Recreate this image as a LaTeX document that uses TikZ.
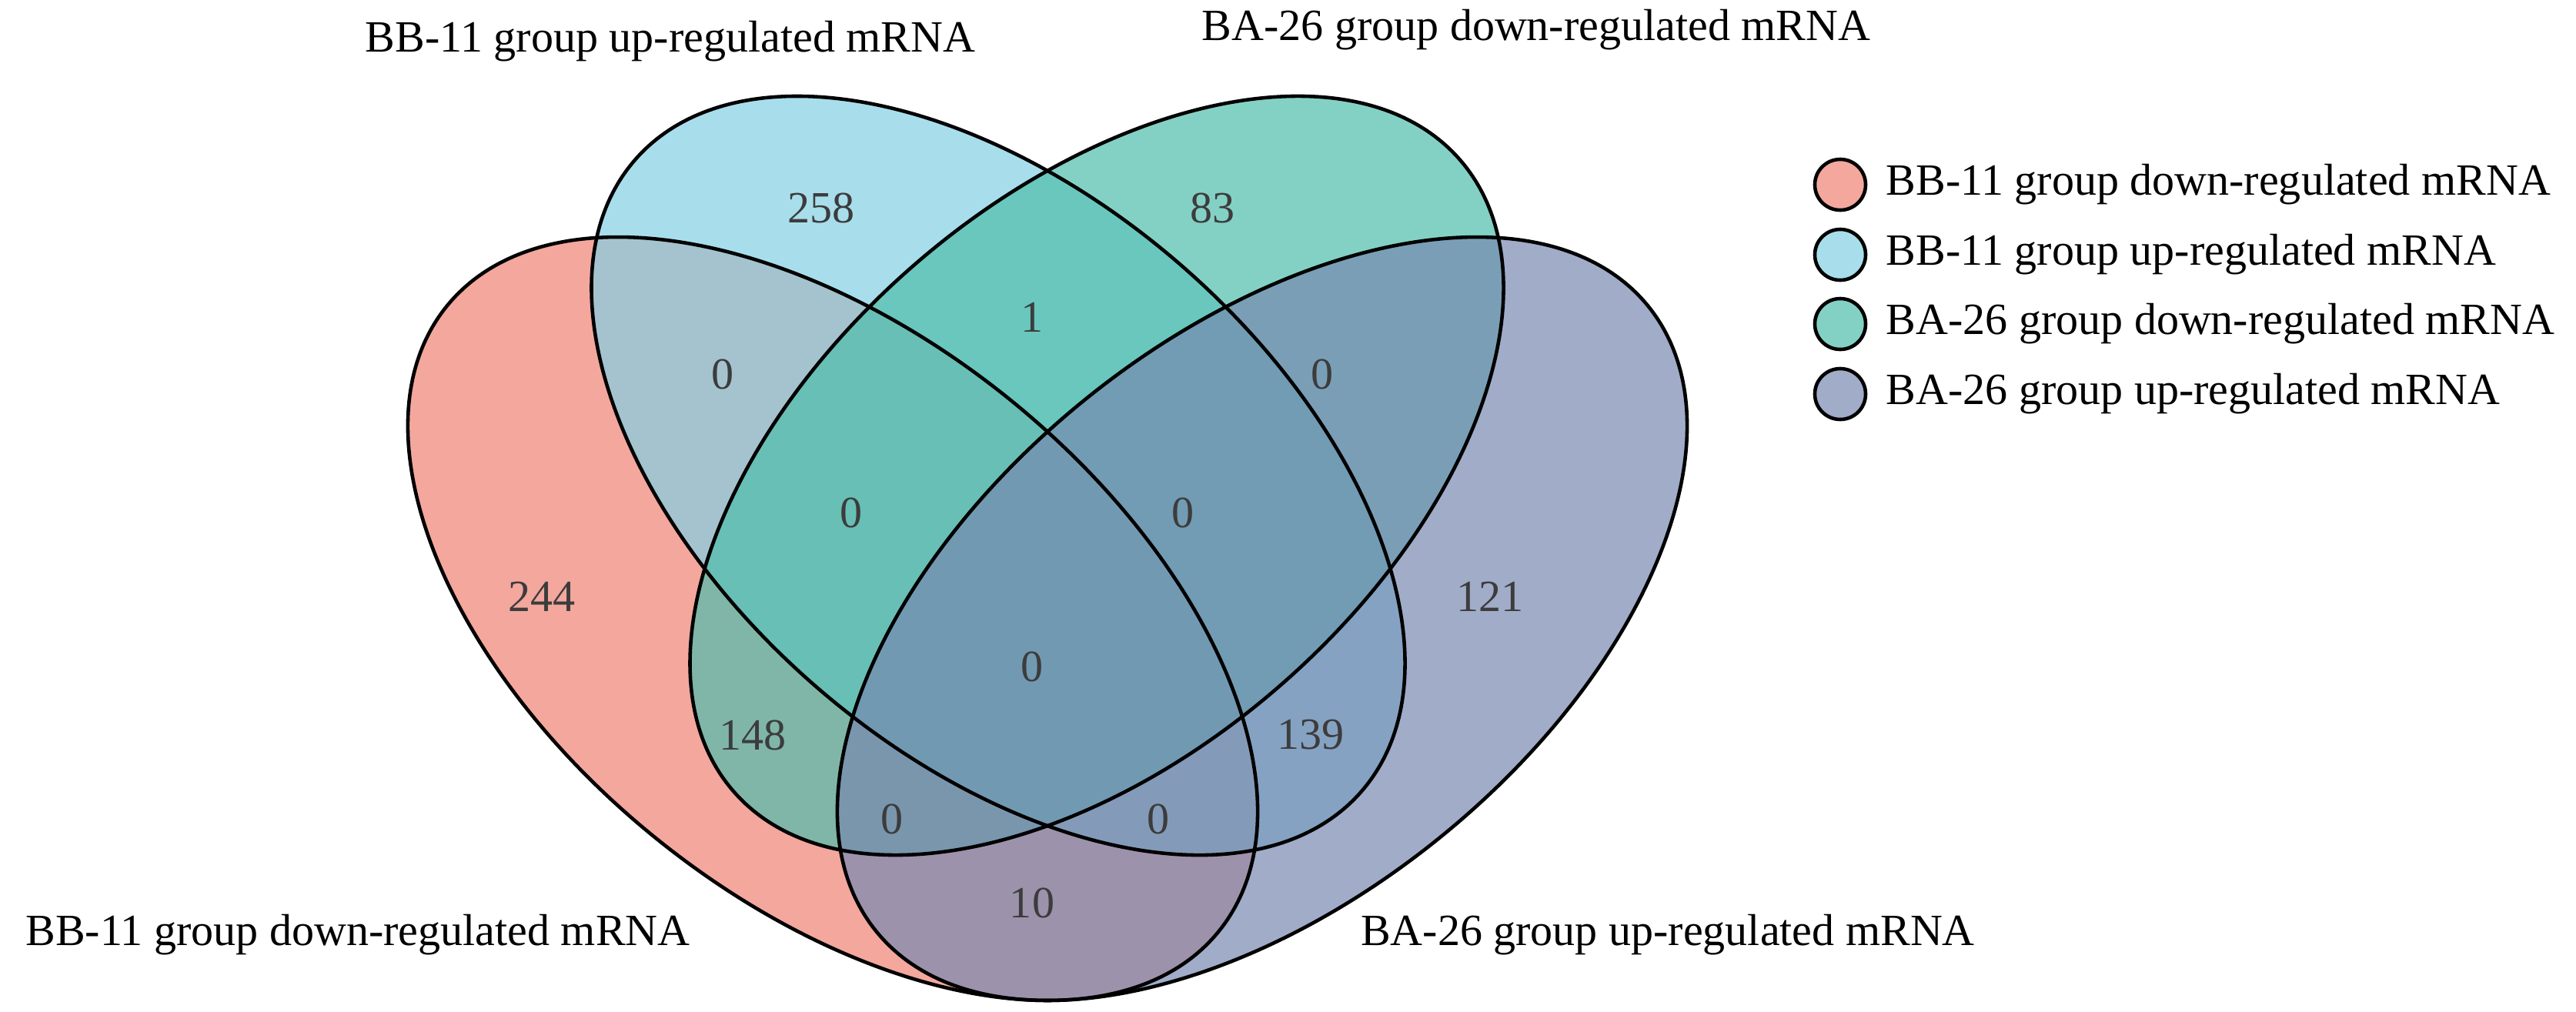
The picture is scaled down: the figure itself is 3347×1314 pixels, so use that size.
\documentclass[tikz,border=0pt]{standalone}
\usepackage{fontspec}
\setmainfont{Liberation Serif}
\definecolor{vred}{RGB}{238,129,116}
\definecolor{vblue}{RGB}{131,208,228}
\definecolor{vgreen}{RGB}{79,189,171}
\definecolor{vpurple}{RGB}{119,137,177}
\definecolor{numgray}{RGB}{60,60,60}
\begin{document}
\begin{tikzpicture}[x=0.01cm,y=-0.01cm,
  setfill/.style={fill=#1,fill opacity=0.7,draw=none},
  setline/.style={draw=black,line width=1.3pt},
  lab/.style={font=\fontsize{16.5}{19}\selectfont,text=black,inner sep=0pt},
  num/.style={font=\fontsize{16.5}{19}\selectfont,text=numgray,inner sep=0pt},
  leg/.style={circle,minimum size=0.66cm,inner sep=0pt,draw=black,line width=1.3pt,fill=#1,fill opacity=0.7,text opacity=1}]
\useasboundingbox (0,0) rectangle (3347,1314);
\coordinate (cR) at (1082,804);
\coordinate (cB) at (1297,618);
\coordinate (cG) at (1425,618);
\coordinate (cP) at (1640,804);
% fills
\path[setfill=vred,rotate around={-39:(cR)}] (cR) ellipse [x radius=6.45cm,y radius=3.66cm];
\path[setfill=vblue,rotate around={-41:(cB)}] (cB) ellipse [x radius=6.25cm,y radius=3.62cm];
\path[setfill=vgreen,rotate around={41:(cG)}] (cG) ellipse [x radius=6.25cm,y radius=3.62cm];
\path[setfill=vpurple,rotate around={39:(cP)}] (cP) ellipse [x radius=6.45cm,y radius=3.66cm];
% outlines
\draw[setline,rotate around={-39:(cR)}] (cR) ellipse [x radius=6.45cm,y radius=3.66cm];
\draw[setline,rotate around={-41:(cB)}] (cB) ellipse [x radius=6.25cm,y radius=3.62cm];
\draw[setline,rotate around={41:(cG)}] (cG) ellipse [x radius=6.25cm,y radius=3.62cm];
\draw[setline,rotate around={39:(cP)}] (cP) ellipse [x radius=6.45cm,y radius=3.66cm];
% set labels
\node[lab] (tB) at (871,54) {BB-11 group up-regulated mRNA};
\node[lab] (tG) at (1996,39) {BA-26 group down-regulated mRNA};
\node[lab] (tR) at (465,1215) {BB-11 group down-regulated mRNA};
\node[lab] (tP) at (2167,1215) {BA-26 group up-regulated mRNA};
% numbers
\node[num] (n1) at (1067,270) {258};
\node[num] (n2) at (1575,270) {83};
\node[num] (n3) at (1341,412) {1};
\node[num] (n4) at (939,486) {0};
\node[num] (n5) at (1718,486) {0};
\node[num] (n6) at (1106,666) {0};
\node[num] (n7) at (1537,666) {0};
\node[num] (n8) at (704,775) {244};
\node[num] (n9) at (1936,775) {121};
\node[num] (n10) at (1341,866) {0};
\node[num] (n11) at (978,955) {148};
\node[num] (n12) at (1703,955) {139};
\node[num] (n13) at (1159,1064) {0};
\node[num] (n14) at (1505,1064) {0};
\node[num] (n15) at (1341,1173) {10};
% legend
\node[leg=vred] (l1) at (2391,240) {};
\node[leg=vblue] (l2) at (2391,331) {};
\node[leg=vgreen] (l3) at (2391,421) {};
\node[leg=vpurple] (l4) at (2391,512) {};
\node[lab,anchor=west] (lt1) at (2450,240) {BB-11 group down-regulated mRNA};
\node[lab,anchor=west] (lt2) at (2450,331) {BB-11 group up-regulated mRNA};
\node[lab,anchor=west] (lt3) at (2450,421) {BA-26 group down-regulated mRNA};
\node[lab,anchor=west] (lt4) at (2450,512) {BA-26 group up-regulated mRNA};
\end{tikzpicture}
\end{document}
